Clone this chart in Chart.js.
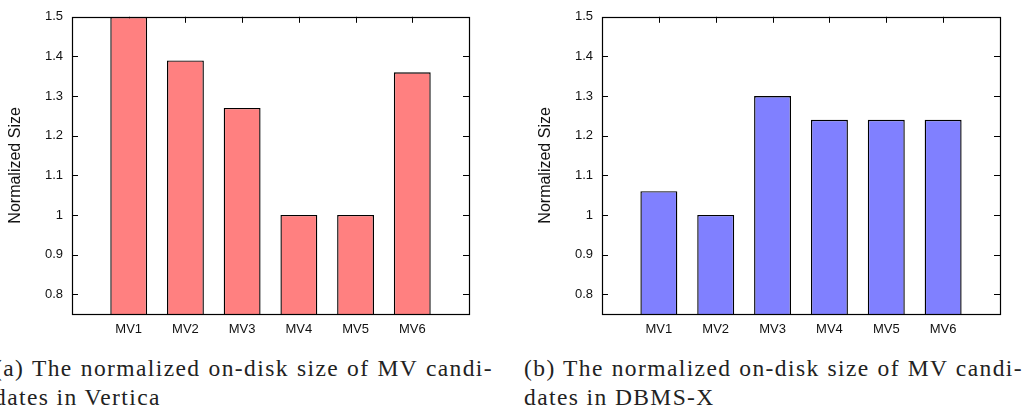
<!DOCTYPE html>
<html>
<head>
<meta charset="utf-8">
<script src="https://cdn.jsdelivr.net/npm/chart.js@4.4.1/dist/chart.umd.min.js"></script>
<style>
  html, body { margin: 0; padding: 0; background: #fff; overflow: hidden; }
  body { width: 1033px; height: 409px; position: relative; }
  .wrap { position: absolute; top: 0; height: 345px; }
  .cap { position: absolute; top: 354px; width: 499px; font-family: "Liberation Serif", "DejaVu Serif", serif;
         font-size: 23.5px; line-height: 29px; color: #222; letter-spacing: 1.4px; }
  .cap .l1 { text-align: justify; text-align-last: justify; white-space: nowrap; }
</style>
</head>
<body>
<div class="wrap" style="left:0;width:520px;"><canvas id="c1" width="520" height="345"></canvas></div>
<div class="wrap" style="left:530px;width:503px;"><canvas id="c2" width="503" height="345"></canvas></div>
<div class="cap" style="left:-6px;"><div class="l1">(a) The normalized on-disk size of MV candi-</div><div>dates in Vertica</div></div>
<div class="cap" style="left:524px;"><div class="l1">(b) The normalized on-disk size of MV candi-</div><div>dates in DBMS-X</div></div>
<script>
// ---- data ----
const categories = ['MV1', 'MV2', 'MV3', 'MV4', 'MV5', 'MV6'];
const verticaSizes = [1.50, 1.39, 1.27, 1.00, 1.00, 1.36];
const dbmsxSizes = [1.06, 1.00, 1.30, 1.24, 1.24, 1.24];
const yTickValues = [0.8, 0.9, 1.0, 1.1, 1.2, 1.3, 1.4, 1.5];
const yTickLabels = ['0.8', '0.9', '1', '1.1', '1.2', '1.3', '1.4', '1.5'];
const yMin = 0.75, yMax = 1.5;
const yTitle = 'Normalized Size';

// ---- frame and inward tick marks ----
const framePlugin = {
  id: 'frame',
  beforeDatasetsDraw(chart) {
    const {ctx, chartArea: a, scales: {x, y}} = chart;
    ctx.save();
    ctx.strokeStyle = '#000';
    ctx.lineWidth = 1;
    ctx.beginPath();
    y.ticks.forEach((t, i) => {
      const py = Math.round(y.getPixelForTick(i)) + 0.5;
      ctx.moveTo(a.left, py); ctx.lineTo(a.left + 6, py);
      ctx.moveTo(a.right, py); ctx.lineTo(a.right - 6, py);
    });
    x.ticks.forEach((t, i) => {
      if (!x.getLabelForValue(t.value)) return;
      const px = Math.round(x.getPixelForTick(i)) + 0.5;
      ctx.moveTo(px, a.top); ctx.lineTo(px, a.top + 6);
      ctx.moveTo(px, a.bottom); ctx.lineTo(px, a.bottom - 6);
    });
    ctx.stroke();
    ctx.restore();
  },
  afterDatasetsDraw(chart) {
    const {ctx, chartArea: a} = chart;
    ctx.save();
    ctx.strokeStyle = '#000';
    ctx.lineWidth = 1.2;
    ctx.strokeRect(Math.round(a.left) + 0.5, Math.round(a.top) + 0.5,
                   Math.round(a.right - a.left), Math.round(a.bottom - a.top));
    ctx.restore();
  }
};

function makeChart(id, values, fill, rightPad) {
  const labels = [''].concat(categories, ['']);
  const data = [null].concat(values, [null]);
  return new Chart(document.getElementById(id), {
    type: 'bar',
    data: {
      labels: labels,
      datasets: [{
        data: data,
        backgroundColor: fill,
        borderColor: '#000',
        borderWidth: 1.4,
        borderSkipped: false,
        barPercentage: 0.65,
        categoryPercentage: 1.0
      }]
    },
    options: {
      responsive: false,
      animation: false,
      events: [],
      layout: { padding: { top: 14, right: rightPad, left: 0, bottom: 0 } },
      plugins: { legend: { display: false }, tooltip: { enabled: false } },
      scales: {
        x: {
          type: 'category',
          offset: false,
          grid: { display: false, drawTicks: false },
          border: { display: false },
          ticks: { autoSkip: false, maxRotation: 0, padding: 8, color: '#111',
                   font: { family: 'Liberation Sans, Arial, sans-serif', size: 13 } },
          afterFit(s) { s.height = 31; }
        },
        y: {
          min: yMin, max: yMax,
          grid: { display: false, drawTicks: false },
          border: { display: false },
          afterBuildTicks(s) { s.ticks = yTickValues.map(v => ({ value: v })); },
          ticks: {
            padding: 9, color: '#111',
            font: { family: 'Liberation Sans, Arial, sans-serif', size: 13 },
            callback(v) { const i = yTickValues.findIndex(t => Math.abs(t - v) < 1e-6); return i >= 0 ? yTickLabels[i] : ''; }
          },
          title: { display: true, text: yTitle, color: '#111', padding: { top: 6, bottom: 0 },
                   font: { family: 'Liberation Sans, Arial, sans-serif', size: 16 } },
          afterFit(s) { s.width = 72; }
        }
      }
    },
    plugins: [framePlugin]
  });
}

makeChart('c1', verticaSizes, '#ff8080', 51);
makeChart('c2', dbmsxSizes, '#8080ff', 33);
</script>
</body>
</html>
